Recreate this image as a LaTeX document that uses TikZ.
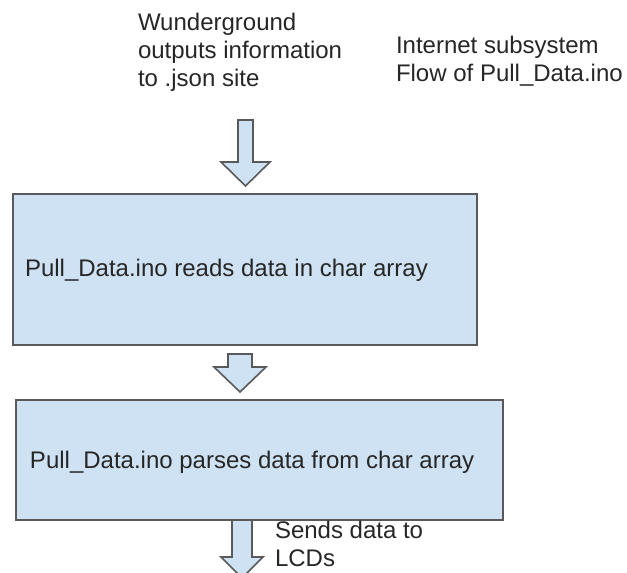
\documentclass[tikz,border=0pt]{standalone}
\usepackage{fontspec}
\setmainfont{Liberation Sans}
\begin{document}
\begin{tikzpicture}[x=1pt,y=-1pt,
  txt/.style={inner sep=0pt, outer sep=0pt, text=black!85, align=left,
    font=\fontsize{24}{28}\selectfont},
  stage/.style={draw=black!65, line width=1.6pt, fill=boxblue},
  blockarrow/.style={draw=black!65, line width=1.6pt, fill=boxblue, line join=miter}
]
\definecolor{boxblue}{HTML}{CFE2F3}
\useasboundingbox (0,0) rectangle (627,573);
\clip (0,0) rectangle (627,573);

% headings
\node[txt, anchor=north west] (src) at (138,13) {Wunderground\\outputs information\\to .json site};
\node[txt, anchor=north west] (title) at (396,36) {Internet subsystem\\Flow of Pull\_Data.ino};

% processing stages
\path[stage] (13,194) rectangle (477,345);
\node[txt, anchor=west] (read) at (25,270) {Pull\_Data.ino reads data in char array};
\path[stage] (16,400) rectangle (503,520);
\node[txt, anchor=west] (parse) at (30,462) {Pull\_Data.ino parses data from char array};

% block arrows: centre x, shaft top, head base, tip, shaft half width, head half width
\newcommand{\downblock}[6]{%
  \path[blockarrow] (#1-#5,#2) -- (#1+#5,#2) -- (#1+#5,#3) -- (#1+#6,#3)
    -- (#1,#4) -- (#1-#6,#3) -- (#1-#5,#3) -- cycle;}
\downblock{245.5}{120}{162}{186}{7.5}{24.5}
\downblock{240}{354}{367}{392}{12}{26}
\downblock{242}{520}{557}{578}{10}{21}

\node[txt, anchor=north west] (send) at (275,521) {Sends data to\\LCDs};
\end{tikzpicture}
\end{document}
